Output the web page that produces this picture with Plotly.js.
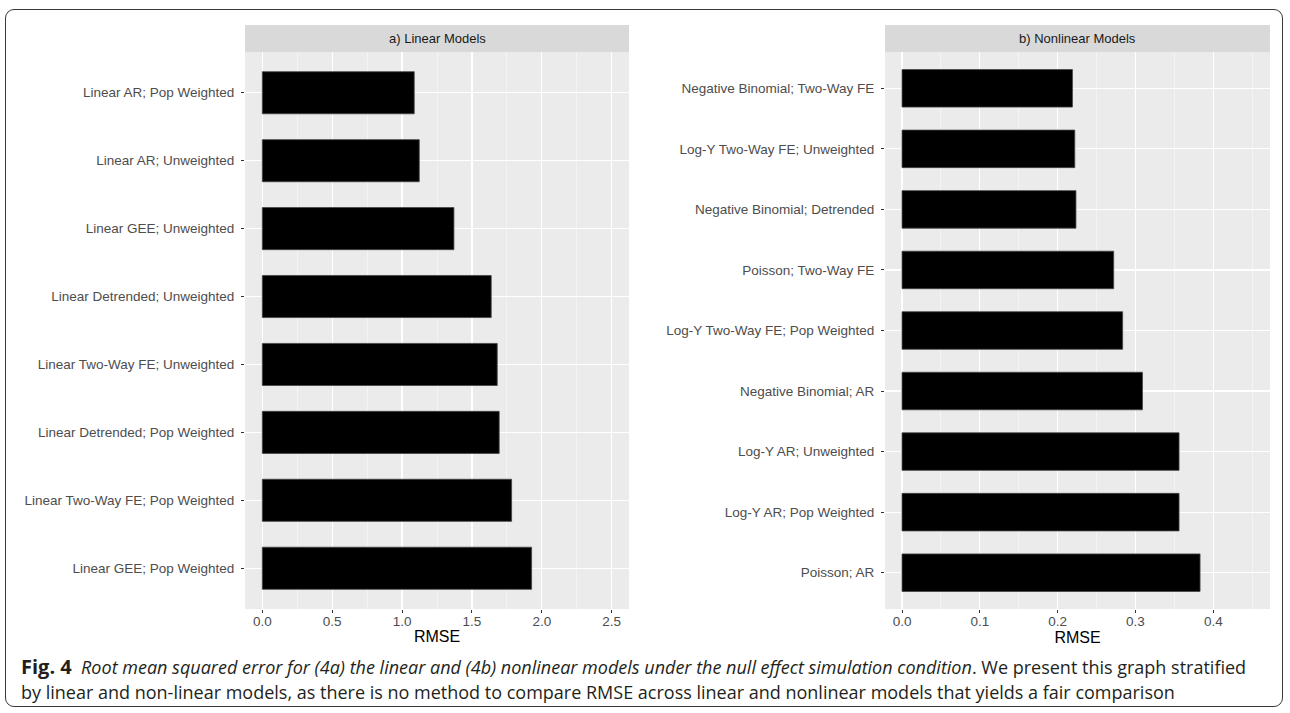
<!DOCTYPE html>
<html>
<head>
<meta charset="utf-8">
<script src="https://cdn.plot.ly/plotly-3.0.1.min.js"></script>
<style>
  html, body { margin: 0; padding: 0; background: #fff; }
  #wrap { position: relative; width: 1290px; height: 713px; overflow: hidden; }
  #chart { position: absolute; left: 0; top: 0; width: 1290px; height: 713px; }
  #frame {
    position: absolute; left: 5px; top: 9px; width: 1278px; height: 698px;
    border: 1.3px solid #3a3a3a; border-radius: 9px; pointer-events: none; box-sizing: border-box;
  }
</style>
</head>
<body>
<div id="wrap">
  <div id="chart"></div>
  <div id="frame"></div>
</div>
<script>
// Panel a: linear models (listed top to bottom)
const linearModels = [
  "Linear AR; Pop Weighted",
  "Linear AR; Unweighted",
  "Linear GEE; Unweighted",
  "Linear Detrended; Unweighted",
  "Linear Two-Way FE; Unweighted",
  "Linear Detrended; Pop Weighted",
  "Linear Two-Way FE; Pop Weighted",
  "Linear GEE; Pop Weighted"
];
const linearRMSE = [1.087, 1.123, 1.371, 1.638, 1.681, 1.695, 1.784, 1.927];

// Panel b: nonlinear models (listed top to bottom)
const nonlinearModels = [
  "Negative Binomial; Two-Way FE",
  "Log-Y Two-Way FE; Unweighted",
  "Negative Binomial; Detrended",
  "Poisson; Two-Way FE",
  "Log-Y Two-Way FE; Pop Weighted",
  "Negative Binomial; AR",
  "Log-Y AR; Unweighted",
  "Log-Y AR; Pop Weighted",
  "Poisson; AR"
];
const nonlinearRMSE = [0.219, 0.222, 0.2235, 0.272, 0.2835, 0.309, 0.356, 0.356, 0.383];

const panelTitles = ["a) Linear Models", "b) Nonlinear Models"];
const linearTicks = [0, 0.5, 1.0, 1.5, 2.0, 2.5];
const nonlinearTicks = [0, 0.1, 0.2, 0.3, 0.4];

const W = 1290, H = 713;
const py = v => 1 - v / H;   // pixel row -> paper fraction
const px = v => v / W;       // pixel column -> paper fraction

const barStyle = { color: "#000000", line: { color: "#444444", width: 0.8 } };
const tickFont = { family: "Liberation Sans, Arial, sans-serif", size: 13.5, color: "#4d4d4d" };
const captionFont = { family: "Open Sans, Lato, sans-serif", size: 18, color: "#231f20" };

const traces = [
  { type: "bar", orientation: "h", x: linearRMSE, y: linearModels, width: 0.62,
    marker: barStyle, xaxis: "x", yaxis: "y", hoverinfo: "skip" },
  { type: "bar", orientation: "h", x: nonlinearRMSE, y: nonlinearModels, width: 0.62,
    marker: barStyle, xaxis: "x2", yaxis: "y2", hoverinfo: "skip" }
];

function xAxis(domain, range, ticks, minorStep, anchor) {
  return {
    domain: domain, range: range, anchor: anchor,
    tickmode: "array", tickvals: ticks, ticktext: ticks.map(t => t.toFixed(1)),
    ticks: "outside", ticklen: 3, tickwidth: 1, tickcolor: "#333333",
    tickfont: tickFont, ticklabelstandoff: -3,
    showline: false, zeroline: false,
    showgrid: true, gridcolor: "#ffffff", gridwidth: 1.2,
    minor: { dtick: minorStep, tick0: 0, showgrid: true, gridcolor: "#fafafa", gridwidth: 0.6, ticks: "" },
    title: { text: "RMSE", font: { family: "Liberation Sans, Arial, sans-serif", size: 16, color: "#000" }, standoff: 2 },
    fixedrange: true
  };
}
function yAxis(domain, cats, anchor) {
  return {
    domain: domain, anchor: anchor, type: "category",
    categoryorder: "array", categoryarray: cats,
    range: [cats.length - 1 + 0.6, -0.6],
    ticks: "outside", ticklen: 3, tickwidth: 1, tickcolor: "#333333",
    tickfont: tickFont, ticklabelstandoff: 4,
    showline: false, zeroline: false,
    showgrid: true, gridcolor: "#ffffff", gridwidth: 1.2,
    fixedrange: true
  };
}

const yDom = [py(609), py(52)];
const xDomA = [px(245), px(629)];
const xDomB = [px(885), px(1270)];

const layout = {
  width: W, height: H,
  margin: { l: 0, r: 0, t: 0, b: 0 },
  paper_bgcolor: "rgba(0,0,0,0)",
  plot_bgcolor: "#ebebeb",
  showlegend: false,
  bargap: 0,
  xaxis: xAxis(xDomA, [-0.124, 2.624], linearTicks, 0.25, "y"),
  yaxis: yAxis(yDom, linearModels, "x"),
  xaxis2: xAxis(xDomB, [-0.0219, 0.4729], nonlinearTicks, 0.05, "y2"),
  yaxis2: yAxis(yDom, nonlinearModels, "x2"),
  shapes: [
    { type: "rect", xref: "x domain", yref: "paper", x0: 0, x1: 1, y0: py(52), y1: py(25),
      fillcolor: "#d9d9d9", line: { width: 0 }, layer: "below" },
    { type: "rect", xref: "x2 domain", yref: "paper", x0: 0, x1: 1, y0: py(52), y1: py(25),
      fillcolor: "#d9d9d9", line: { width: 0 }, layer: "below" }
  ],
  annotations: [
    { xref: "x domain", yref: "paper", x: 0.5, y: py(38.5), text: panelTitles[0], showarrow: false,
      xanchor: "center", yanchor: "middle",
      font: { family: "Liberation Sans, Arial, sans-serif", size: 13, color: "#1a1a1a" } },
    { xref: "x2 domain", yref: "paper", x: 0.5, y: py(38.5), text: panelTitles[1], showarrow: false,
      xanchor: "center", yanchor: "middle",
      font: { family: "Liberation Sans, Arial, sans-serif", size: 13, color: "#1a1a1a" } },
    { xref: "paper", yref: "paper", x: px(19), y: py(666), xanchor: "left", yanchor: "middle", showarrow: false,
      align: "left",
      text: "<span style=\"font-size:20px\"><b>Fig. 4</b></span>  <i>Root mean squared error for (4a) the linear and (4b) nonlinear models under the null effect simulation condition</i>. We present this graph stratified",
      font: captionFont },
    { xref: "paper", yref: "paper", x: px(19), y: py(692), xanchor: "left", yanchor: "middle", showarrow: false,
      align: "left",
      text: "by linear and non-linear models, as there is no method to compare RMSE across linear and nonlinear models that yields a fair comparison",
      font: captionFont }
  ]
};

Plotly.newPlot("chart", traces, layout, { staticPlot: true, displayModeBar: false });
</script>
</body>
</html>
